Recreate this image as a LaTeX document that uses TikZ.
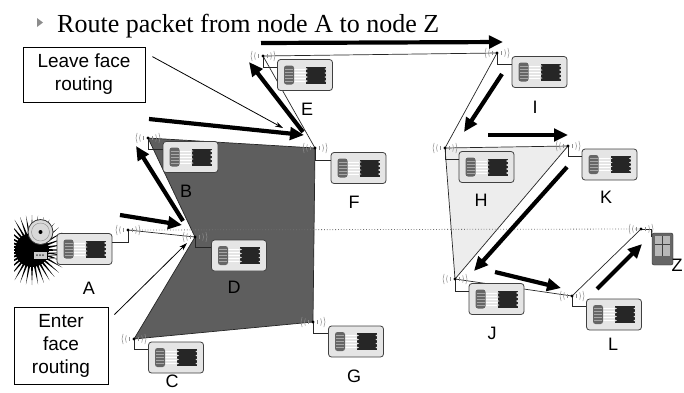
\documentclass[tikz,border=0pt]{standalone}
\usepackage{fontspec}
\setmainfont{Liberation Serif}
\setsansfont{Liberation Sans}
\usetikzlibrary{arrows.meta}

% coil and chip inside a sensor box (#1 = 1 or -1 for mirrored)
\newcommand\motebody[1]{%
  \begin{scope}[shift={(path picture bounding box.center)},xscale=#1,sharp corners]
    \foreach \r in {-6,-3,0,3,6} {
      \draw[white,line width=0.5pt] (-12pt,\r pt) -- (1pt,\r pt);
    }
    \fill[black!60,rounded corners=2.5pt] (-21pt,-9.5pt) rectangle (-11pt,9.5pt);
    \foreach \r in {-6,-3,0,3,6} {
      \draw[black!35,line width=0.6pt] (-20pt,\r pt) -- (-12pt,\r pt);
    }
    \fill[black!85] (1pt,-8.5pt) rectangle (21pt,8.5pt);
    \foreach \r in {-6,-2,2,6} {
      \fill[black!12] (0.5pt,{(\r-1.2)*1pt}) -- (3pt,\r pt) -- (0.5pt,{(\r+1.2)*1pt}) -- cycle;
      \fill[black!12] (21.5pt,{(\r-1.2)*1pt}) -- (19.5pt,\r pt) -- (21.5pt,{(\r+1.2)*1pt}) -- cycle;
    }
  \end{scope}}

\tikzset{
  mote/.style={draw=black!75,fill=black!10,rounded corners=3pt,line width=0.8pt,
    minimum width=55pt,minimum height=31pt,inner sep=0pt,path picture={\motebody{1}}},
  motel/.style={mote,path picture={\motebody{-1}}},
  link/.style={black!85,line width=0.7pt},
  wave/.style={black!45,line width=0.5pt},
  hop/.style={line width=4.2pt,-{Triangle[length=14pt,width=12.5pt]}},
  pointer/.style={line width=0.8pt,-{Stealth[length=8pt,width=5pt]}},
  tag/.style={font=\sffamily\fontsize{18}{18}\selectfont,inner sep=0pt},
  callout/.style={draw,line width=0.8pt,fill=white,align=center,inner sep=0pt,
    font=\sffamily\fontsize{19}{23}\selectfont},
}

\begin{document}
\begin{tikzpicture}[x=1pt,y=-1pt]
\useasboundingbox (0,0) rectangle (684,392);
%antennas
\foreach \n/\x/\y in {A/128/230,B/148/138,C/134/339,D/195/237,E/263/56,F/315/148,G/313/322,
  H/445/148,I/497/53,J/455/279,K/568/146,L/572/296,Z/641/229} {
  \coordinate (\n) at (\x,\y);
}
%alarm
\coordinate (burst) at (32,250);
\begin{scope}
  \clip (14,205) rectangle (80,295);
  \fill (burst) circle (17pt);
  \foreach \a in {0,10,...,350} {
    \fill ([shift={(\a-4:15pt)}]burst) -- ([shift={(\a:35pt)}]burst) -- ([shift={(\a+4:15pt)}]burst) -- cycle;
  }
\end{scope}
\foreach \w in {252,255,258} {
  \draw[black!40,line width=0.6pt] (44,\w) -- (58,\w);
}
\node[draw=black!80,fill=black!15,circle,minimum size=25pt,inner sep=0pt,line width=0.8pt] (bell) at (40.5,232) {};
\draw[black!45] (bell) circle (9pt);
\fill (bell) circle (2pt);
\node[draw,fill=black!20,minimum width=14pt,minimum height=8pt,inner sep=0pt] (buzz) at (40,255) {};
\draw (buzz.north west) -- (bell.south west);
\foreach \d in {-3,0,3} {
  \fill[black!70] ([xshift=\d pt]buzz.center) circle (1pt);
}
%faces
\fill[black!63] (B) -- (F) -- (G) -- (C) -- (D) -- cycle;
\fill[black!7] (H) -- (K) -- (J) -- cycle;
%links
\draw[link] (B) -- (F) -- (G) -- (C) -- (D) -- cycle;
\draw[link] (A) -- (D) (E) -- (F) (E) -- (I) -- (H) -- (K) -- (J) -- (H) (J) -- (L) -- (Z);
\draw[black!55,dotted,line width=0.8pt] (A) -- (Z);
%sensor boxes
\foreach \n/\x/\y in {B/190.5/157,C/176/357.5,D/239/255.5,E/305/75,F/358.5/168,G/356/341.5,
  H/486.5/167,I/539.5/72,J/496.5/299,K/609.5/164.5,L/614/314.5} {
  \node[mote] (box\n) at (\x,\y) {};
  \draw[link] (\n) |- ([yshift=-8pt]box\n.north west);
}
\node[motel] (boxA) at (84.5,249) {};
\draw[link] (A) |- ([yshift=-9pt]boxA.north east);
%handheld
\node[draw=black!85,fill=black!60,rounded corners=2pt,minimum width=21pt,minimum height=32pt,inner sep=0pt] (pda) at (662.5,249) {};
\fill[black!28] ([shift={(3pt,-3pt)}]pda.north west) rectangle ([shift={(-3pt,9pt)}]pda.south east);
\draw[black!75] ([shift={(3pt,-11pt)}]pda.north west) -- ([shift={(-3pt,-11pt)}]pda.north east);
\draw[black!75] ([shift={(10pt,-3pt)}]pda.north west) -- ([shift={(10pt,9pt)}]pda.south west);
\draw[link] (Z) -| ([yshift=-4pt]pda.north west);
%waves
\foreach \n in {A,B,C,D,E,F,G,H,I,J,K,L,Z} {
  \foreach \r in {5,8.5,12} {
    \draw[wave] (\n) ++(155:\r pt) arc (155:205:\r pt);
    \draw[wave] (\n) ++(-25:\r pt) arc (-25:25:\r pt);
  }
  \fill (\n) circle (1.6pt);
}
%route
\foreach \n/\x/\y in {h1/120/215,h2/182/225,h3/183/221,h4/136/146,h5/149/119,h6/304/135,
  h7/303/132,h8/249/62,h9/261/43,h10/503/42,h11/502/74,h12/464/132,h13/488/135,h14/568/135,
  h15/567/167,h16/474/271,h17/495/272,h18/561/288,h19/597/289,h20/642/244} {
  \coordinate (\n) at (\x,\y);
}
\foreach \s/\t in {h1/h2,h3/h4,h5/h6,h7/h8,h9/h10,h11/h12,h13/h14,h15/h16,h17/h18,h19/h20} {
  \draw[hop] (\s) -- (\t);
}
%callouts
\node[callout,minimum width=122pt,minimum height=55pt] (leave) at (84,74.5) {Leave face\\routing};
\node[callout,minimum width=94pt,minimum height=77pt] (enter) at (61,345.5) {Enter\\face\\routing};
\coordinate (leavetip) at (283,128);
\coordinate (entertip) at (187,243);
\draw[pointer] ([shift={(7pt,-10pt)}]leave.north east) -- (leavetip);
\draw[pointer] ([shift={(6pt,-8pt)}]enter.north east) -- (entertip);
%names
\foreach \n/\x/\y in {A/89/288,B/186/191,C/172/381,D/234/287,E/307/109,F/354/202,G/354/376,
  H/481/200,I/535/107,J/492/333,K/606/197,L/613/344,Z/677/265} {
  \node[tag] (tag\n) at (\x,\y) {\n};
}
%title
\fill[black!45] (37,18) -- (43,22.5) -- (37,27) -- cycle;
\node[anchor=base west,inner sep=0pt,font=\fontsize{26}{30}\selectfont] (title) at (57,32) {Route packet from node A to node Z};
\end{tikzpicture}
\end{document}
